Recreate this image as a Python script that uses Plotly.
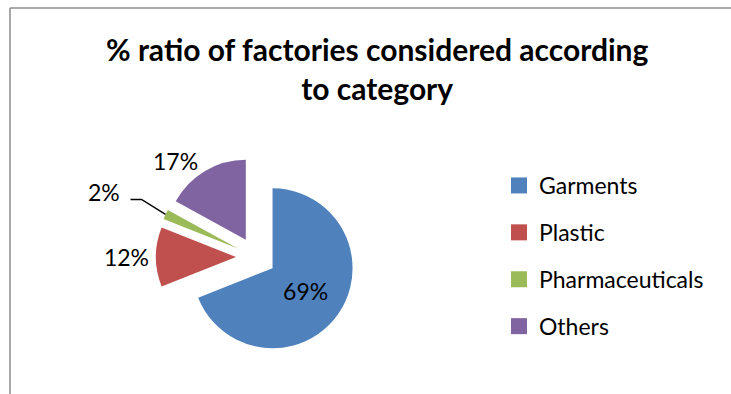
import math
import plotly.graph_objects as go

# Share of surveyed factories by category (%)
categories = ["Garments", "Plastic", "Pharmaceuticals", "Others"]
shares = [69, 12, 2, 17]
colors = ["#4F81BD", "#C0504D", "#9BBB59", "#8064A2"]

W, H = 731, 394
FONT = "Lato"
LABEL_SIZE = 23

# Pie box in pixels; every slice is exploded by a quarter radius
BOX_X0, BOX_X1 = 156, 356
BOX_Y0, BOX_Y1 = 157, 357
PULL = 0.25


def px(x):
    return x / W


def py(y):
    return 1 - y / H


fig = go.Figure()

fig.add_trace(go.Pie(
    labels=categories,
    values=shares,
    sort=False,
    direction="clockwise",
    rotation=0,
    pull=[PULL] * len(shares),
    marker=dict(colors=colors, line=dict(width=0)),
    texttemplate="%{value}%",
    textposition=["inside", "outside", "none", "outside"],
    textfont=dict(family=FONT, size=LABEL_SIZE, color="#000000"),
    insidetextorientation="horizontal",
    domain=dict(x=[px(BOX_X0), px(BOX_X1)], y=[py(BOX_Y1), py(BOX_Y0)]),
    showlegend=False,
    hoverinfo="label+percent",
))

# Leader-line label for the thin Pharmaceuticals slice
cx, cy = (BOX_X0 + BOX_X1) / 2, (BOX_Y0 + BOX_Y1) / 2
radius = (BOX_X1 - BOX_X0) / 2 / (1 + PULL)
idx = 2
mid_frac = (sum(shares[:idx]) + shares[idx] / 2) / sum(shares)
theta = 2 * math.pi * mid_frac
reach = radius * (1 + PULL)
tip = (cx + reach * math.sin(theta), cy - reach * math.cos(theta))
elbow = (tip[0] - 24, tip[1] - 15)
end = (elbow[0] - 11, elbow[1])

annotations = [
    dict(x=px(end[0] - 9), y=py(end[1] - 7), xref="paper", yref="paper",
         text=f"{shares[idx]}%", showarrow=False, xanchor="right", yanchor="middle",
         font=dict(family=FONT, size=LABEL_SIZE, color="#000000")),
    dict(x=px(377), y=py(29), xref="paper", yref="paper",
         text="<b>% ratio of factories considered according<br>to category</b>",
         showarrow=False, xanchor="center", yanchor="top",
         font=dict(family=FONT, size=30, color="#000000")),
]

# Legend entries, one group each so the rows are spaced out
for name, col in zip(categories, colors):
    fig.add_trace(go.Scatter(
        x=[None], y=[None], mode="markers", name=name,
        legendgroup=name,
        marker=dict(symbol="square", size=16, color=col),
    ))

fig.update_layout(
    width=W, height=H,
    margin=dict(l=0, r=0, t=0, b=0),
    paper_bgcolor="#FFFFFF",
    plot_bgcolor="#FFFFFF",
    xaxis=dict(visible=False),
    yaxis=dict(visible=False),
    annotations=annotations,
    legend=dict(
        x=px(499), xanchor="left", y=py(164), yanchor="top",
        font=dict(family=FONT, size=23, color="#000000"),
        tracegroupgap=14,
        bgcolor="rgba(0,0,0,0)",
    ),
    shapes=[
        dict(type="line", xref="paper", yref="paper",
             x0=px(10), x1=1, y0=py(8), y1=py(8),
             line=dict(color="#8C8C8C", width=1.5)),
        dict(type="line", xref="paper", yref="paper",
             x0=px(10), x1=px(10), y0=0, y1=py(8),
             line=dict(color="#8C8C8C", width=1.5)),
        dict(type="path", xref="paper", yref="paper",
             path=(f"M {px(end[0])},{py(end[1])} L {px(elbow[0])},{py(elbow[1])} "
                   f"L {px(tip[0])},{py(tip[1])}"),
             line=dict(color="#000000", width=1.5)),
    ],
)

fig.write_html("out.html")
